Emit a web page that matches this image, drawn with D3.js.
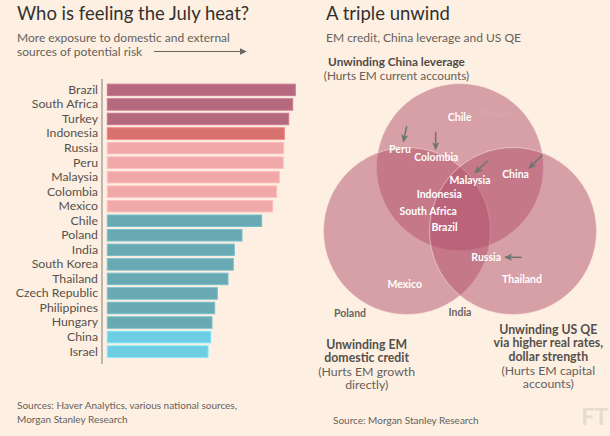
<!DOCTYPE html>
<html>
<head>
<meta charset="utf-8">
<script src="https://cdn.jsdelivr.net/npm/d3@7"></script>
<style>
  html, body { margin: 0; padding: 0; background: #fdf0e2; }
  svg { display: block; }
  text { font-family: "Lato", "Open Sans", sans-serif; }
</style>
</head>
<body>
<svg id="chart" width="610" height="436"></svg>
<script>
// ---------------- Data: bar chart ----------------
const countries = ["Brazil","South Africa","Turkey","Indonesia","Russia","Peru","Malaysia","Colombia","Mexico",
  "Chile","Poland","India","South Korea","Thailand","Czech Republic","Philippines","Hungary","China","Israel"];
const exposure = [188, 185.4, 181.4, 177, 176.4, 176, 172, 169.4, 165.4,
  154.4, 134.7, 127, 126, 120.7, 110, 107.4, 104.7, 103.4, 100.7];
const riskGroup = ["high","high","high","mid","low","low","low","low","low",
  "teal","teal","teal","teal","teal","teal","teal","teal","cyan","cyan"];
const groupNames = ["high","mid","low","teal","cyan"];
const groupColors = ["#b5697f","#d6716e","#f0a8a8","#68a9b4","#6dcde2"];

// ---------------- Data: Venn diagram ----------------
const vennSets = ["Unwinding China leverage","Unwinding EM domestic credit","Unwinding US QE"];
const vennCx = [0, -0.635, 0.635];
const vennCy = [-0.766, 0, 0];
const vennR = [1, 1, 1];

const vennLabels = ["Peru","Colombia","Chile","Malaysia","China","Indonesia","South Africa","Brazil","Russia","Thailand","Mexico"];
const vennLabelU = [-0.719, -0.284, -0.004, 0.120, 0.665, -0.249, -0.381, -0.186, 0.314, 0.743, -0.662];
const vennLabelV = [-0.978, -0.878, -1.357, -0.611, -0.679, -0.440, -0.236, -0.044, 0.320, 0.578, 0.638];

const outsideLabels = ["Poland","India"];
const outsideU = [-1.317, 0];
const outsideV = [0.986, 0.970];

const fadedLabels = ["Taiwan"];
const fadedU = [0.407];
const fadedV = [-1.410];

const arrowNames = ["Peru","Colombia","Malaysia","China","Russia"];
const arrowU1 = [-0.638, -0.291, 0.332, 0.986, 0.739];
const arrowV1 = [-1.257, -1.189, -0.842, -0.907, 0.315];
const arrowU2 = [-0.679, -0.291, 0.180, 0.826, 0.539];
const arrowV2 = [-1.069, -0.978, -0.698, -0.751, 0.315];

// ---------------- Drawing ----------------
const svg = d3.select("#chart");
svg.append("rect").attr("width", 610).attr("height", 436).attr("fill", "#fdf0e2");

const textDark = "#333030";
const textGrey = "#66605b";

// Left panel titles
svg.append("text").attr("x", 17).attr("y", 20).attr("font-size", 18.5).attr("fill", textDark)
  .text("Who is feeling the July heat?");
svg.append("text").attr("x", 17).attr("y", 41.5).attr("font-size", 12).attr("fill", textGrey)
  .text("More exposure to domestic and external");
svg.append("text").attr("x", 17).attr("y", 55.5).attr("font-size", 12).attr("fill", textGrey)
  .text("sources of potential risk");

const defs = svg.append("defs");
defs.append("marker").attr("id", "bigArrow").attr("viewBox", "0 0 10 10")
  .attr("refX", 9).attr("refY", 5).attr("markerWidth", 7).attr("markerHeight", 7)
  .attr("markerUnits", "userSpaceOnUse").attr("orient", "auto")
  .append("path").attr("d", "M0,0 L10,5 L0,10 Z").attr("fill", "#6a6460");
defs.append("marker").attr("id", "smallArrow").attr("viewBox", "0 0 10 10")
  .attr("refX", 9).attr("refY", 5).attr("markerWidth", 8).attr("markerHeight", 8)
  .attr("markerUnits", "userSpaceOnUse").attr("orient", "auto")
  .append("path").attr("d", "M0,0.5 L10,5 L0,9.5 L2.5,5 Z").attr("fill", "#6b7670");

svg.append("line").attr("x1", 154).attr("x2", 246).attr("y1", 51.5).attr("y2", 51.5)
  .attr("stroke", "#6a6460").attr("stroke-width", 1.2).attr("marker-end", "url(#bigArrow)");

// Bar scales
const y = d3.scaleBand().domain(countries).range([82.7, 358.8]).paddingInner(0.21).paddingOuter(0.1);
const x = d3.scaleLinear().domain([0, d3.max(exposure)]).range([107.3, 295.3]);
const color = d3.scaleOrdinal().domain(groupNames).range(groupColors);

const rows = countries.map((c, i) => ({ c, v: exposure[i], g: riskGroup[i] }));

svg.append("g").selectAll("rect").data(rows).join("rect")
  .attr("x", x(0))
  .attr("y", d => y(d.c))
  .attr("width", d => x(d.v) - x(0))
  .attr("height", y.bandwidth())
  .attr("fill", d => color(d.g))
  .attr("stroke", d => d3.color(color(d.g)).brighter(0.35))
  .attr("stroke-width", 1);

const yAxis = d3.axisLeft(y).tickSize(0).tickPadding(4);
const yAxisG = svg.append("g").attr("transform", "translate(102,0)").call(yAxis);
yAxisG.select(".domain").remove();
yAxisG.selectAll("text").attr("font-size", 12.3).attr("fill", "#57514d")
  .attr("font-family", "Lato, 'Open Sans', sans-serif");
svg.append("line").attr("x1", 102).attr("x2", 102).attr("y1", 79).attr("y2", 364)
  .attr("stroke", "#aaa49e").attr("stroke-width", 1.5);

svg.append("text").attr("x", 17).attr("y", 409).attr("font-size", 10).attr("fill", textGrey)
  .text("Sources: Haver Analytics, various national sources,");
svg.append("text").attr("x", 17).attr("y", 423).attr("font-size", 10).attr("fill", textGrey)
  .text("Morgan Stanley Research");

// Right panel
svg.append("text").attr("x", 326).attr("y", 20).attr("font-size", 18.5).attr("fill", textDark)
  .text("A triple unwind");
svg.append("text").attr("x", 326).attr("y", 42).attr("font-size", 12).attr("fill", textGrey)
  .text("EM credit, China leverage and US QE");
svg.append("text").attr("x", 396.5).attr("y", 65.5).attr("font-size", 11.8).attr("font-weight", "bold")
  .attr("text-anchor", "middle").attr("fill", "#4f4a47").text("Unwinding China leverage");
svg.append("text").attr("x", 396.5).attr("y", 79.5).attr("font-size", 11.8)
  .attr("text-anchor", "middle").attr("fill", textGrey).text("(Hurts EM current accounts)");

const vx = d3.scaleLinear().domain([-1, 1]).range([460 - 83.5, 460 + 83.5]);
const vy = d3.scaleLinear().domain([-1, 1]).range([231 - 83.5, 231 + 83.5]);
const vr = d => vx(d) - vx(0);

const circles = vennSets.map((s, i) => ({ s, cx: vennCx[i], cy: vennCy[i], r: vennR[i] }));
svg.append("g").selectAll("circle").data(circles).join("circle")
  .attr("cx", d => vx(d.cx)).attr("cy", d => vy(d.cy)).attr("r", d => vr(d.r))
  .attr("fill", "rgb(177,80,106)").attr("fill-opacity", 0.5)
  .attr("stroke", "#fbe8e6").attr("stroke-opacity", 0.55).attr("stroke-width", 1);

svg.append("g").selectAll("text").data(fadedLabels).join("text")
  .attr("x", (d, i) => vx(fadedU[i])).attr("y", (d, i) => vy(fadedV[i]))
  .attr("dy", "0.35em").attr("text-anchor", "middle")
  .attr("font-size", 10.5).attr("font-weight", "bold").attr("fill", "#ffffff").attr("fill-opacity", 0.09)
  .text(d => d);

svg.append("g").selectAll("text").data(vennLabels).join("text")
  .attr("x", (d, i) => vx(vennLabelU[i])).attr("y", (d, i) => vy(vennLabelV[i]))
  .attr("dy", "0.35em").attr("text-anchor", "middle")
  .attr("font-size", 10.5).attr("font-weight", "bold").attr("fill", "#ffffff")
  .text(d => d);

svg.append("g").selectAll("text").data(outsideLabels).join("text")
  .attr("x", (d, i) => vx(outsideU[i])).attr("y", (d, i) => vy(outsideV[i]))
  .attr("dy", "0.35em").attr("text-anchor", "middle")
  .attr("font-size", 10.5).attr("font-weight", "bold").attr("fill", "#6a6460")
  .text(d => d);

svg.append("g").selectAll("line").data(arrowNames).join("line")
  .attr("x1", (d, i) => vx(arrowU1[i])).attr("y1", (d, i) => vy(arrowV1[i]))
  .attr("x2", (d, i) => vx(arrowU2[i])).attr("y2", (d, i) => vy(arrowV2[i]))
  .attr("stroke", "#6b7670").attr("stroke-width", 1.5).attr("marker-end", "url(#smallArrow)");

// Set captions
const leftCap = [["Unwinding EM", true], ["domestic credit", true], ["(Hurts EM growth", false], ["directly)", false]];
svg.append("g").selectAll("text").data(leftCap).join("text")
  .attr("x", 366.7).attr("y", (d, i) => 344.3 + i * 13.6).attr("dy", "0.35em")
  .attr("text-anchor", "middle").attr("font-size", 12.3)
  .attr("font-weight", d => d[1] ? "bold" : "normal")
  .attr("fill", d => d[1] ? "#55504c" : textGrey).text(d => d[0]);

const rightCap = [["Unwinding US QE", true], ["via higher real rates,", true], ["dollar strength", true], ["(Hurts EM capital", false], ["accounts)", false]];
svg.append("g").selectAll("text").data(rightCap).join("text")
  .attr("x", 548.3).attr("y", (d, i) => 329.3 + i * 13.7).attr("dy", "0.35em")
  .attr("text-anchor", "middle").attr("font-size", 12.3)
  .attr("font-weight", d => d[1] ? "bold" : "normal")
  .attr("fill", d => d[1] ? "#55504c" : textGrey).text(d => d[0]);

svg.append("text").attr("x", 333).attr("y", 423.5).attr("font-size", 10).attr("fill", textGrey)
  .text("Source: Morgan Stanley Research");

svg.append("text").attr("x", 608).attr("y", 425).attr("text-anchor", "end")
  .attr("font-family", "'Liberation Serif', 'DejaVu Serif', serif").attr("font-size", 23)
  .attr("font-weight", "bold").attr("fill", "#e6dbd0").text("FT");
</script>
</body>
</html>
